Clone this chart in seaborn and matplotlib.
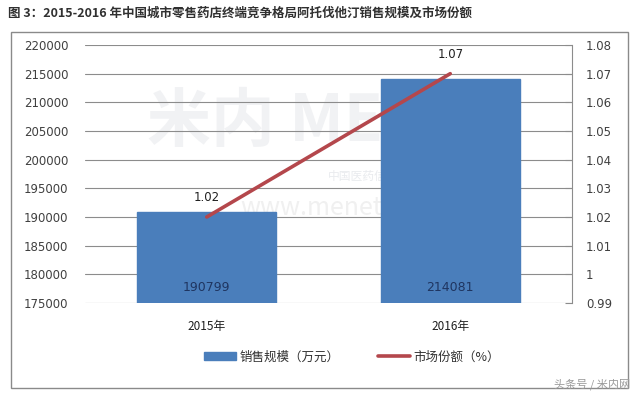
import matplotlib
matplotlib.use("Agg")
import matplotlib.pyplot as plt
import seaborn as sns
import pandas as pd
from matplotlib.patches import Rectangle, Patch
from matplotlib.lines import Line2D

years = ["2015年", "2016年"]
sales = [190799, 214081]
share = [1.02, 1.07]
title = "图 3：2015-2016 年中国城市零售药店终端竞争格局阿托伐他汀销售规模及市场份额"
legend_labels = ["销售规模（万元）", "市场份额（%）"]

sns.set_theme(style="white")
plt.rcParams['font.family'] = ['Noto Sans CJK SC', 'DejaVu Sans']

bar_color = "#4A7EBB"
line_color = "#B4474C"
grid_color = "#8C8C8C"
text_color = "#404040"

df = pd.DataFrame({"year": years, "sales": sales, "share": share})

fig = plt.figure(figsize=(6.4, 3.99), dpi=100)
ax = fig.add_axes([85/640, 1-303/399, (572-85)/640, (303-45)/399])

sns.barplot(data=df, x="year", y="sales", ax=ax, color=bar_color,
            width=0.57, saturation=1, edgecolor=bar_color, zorder=2)
ax.set_ylim(175000, 220000)
ax.set_yticks(range(175000, 220001, 5000))
ax.set_yticklabels([str(v) for v in range(175000, 220001, 5000)],
                   fontsize=8.5, color=text_color, family=['DejaVu Sans'])
ax.yaxis.grid(True, color=grid_color, linewidth=0.8, zorder=1)
ax.set_axisbelow(True)
ax.tick_params(axis='y', length=0, pad=12)
ax.tick_params(axis='x', length=0, pad=12)
ax.set_xlabel("")
ax.set_ylabel("")
for s in ["left", "top", "right", "bottom"]:
    ax.spines[s].set_visible(False)
for lbl in ax.get_xticklabels():
    lbl.set_fontsize(8.5)
    lbl.set_color("#202020")

for i, v in enumerate(sales):
    ax.text(i, 176600, str(v), ha="center", va="bottom", fontsize=9,
            color="#1F3560", family=['DejaVu Sans'], zorder=3)

# watermark (behind the bars)
ax.text(0.5, 0.70, "米内 MENET", transform=ax.transAxes, fontsize=46,
        color="#F1F2F4", ha="center", va="center", fontweight="bold",
        zorder=0.3)
ax.text(0.62, 0.49, "中国医药信息查询平台", transform=ax.transAxes,
        fontsize=8.5, color="#E9EBEE", ha="center", va="center", zorder=0.3)
ax.text(0.56, 0.37, "www.menet.com.cn", transform=ax.transAxes,
        fontsize=18, color="#F0F0F0", ha="center", va="center", zorder=0.3)

ax2 = ax.twinx()
sns.pointplot(data=df, x="year", y="share", ax=ax2, color=line_color,
              markersize=0, linewidth=2.6, errorbar=None)
ax2.set_ylim(0.99, 1.08)
yt = [0.99, 1.00, 1.01, 1.02, 1.03, 1.04, 1.05, 1.06, 1.07, 1.08]
ax2.set_yticks(yt)
ax2.set_yticklabels(["0.99", "1", "1.01", "1.02", "1.03", "1.04", "1.05",
                     "1.06", "1.07", "1.08"], fontsize=8.5, color=text_color,
                    family=['DejaVu Sans'])
ax2.tick_params(axis='y', direction='in', length=5, width=0.8,
                color=grid_color, pad=10)
ax2.set_ylabel("")
ax2.set_xlabel("")
for s in ["left", "top", "bottom"]:
    ax2.spines[s].set_visible(False)
ax2.spines["right"].set_color(grid_color)
ax2.spines["right"].set_linewidth(0.8)
for i, v in enumerate(share):
    ax2.text(i, v + 0.0045, f"{v:.2f}", ha="center", va="bottom",
             fontsize=8.5, color="#202020", family=['DejaVu Sans'])
ax.set_xlim(-0.5, 1.5)
ax2.set_xlim(-0.5, 1.5)

# title
fig.text(8/640, 1-13/399, title, fontsize=9.0, fontweight="bold",
         color="#303030", ha="left", va="center")

# frame
fig.patches.append(Rectangle((11/640, 1-388/399), (628-11)/640, (388-32)/399,
                             transform=fig.transFigure, fill=False,
                             edgecolor="#8A8A8A", linewidth=1.0, zorder=0))

handles = [Patch(facecolor=bar_color, edgecolor=bar_color),
           Line2D([0], [0], color=line_color, linewidth=2.6)]
fig.legend(handles, legend_labels, loc="center", ncol=2,
           bbox_to_anchor=(0.55, 1-357/399), frameon=False, fontsize=9,
           handlelength=2.6, handleheight=0.6, columnspacing=3.0,
           handletextpad=0.3, labelcolor="#303030")

fig.text(0.985, 1-384/399, "头条号 / 米内网", fontsize=8, color="#9A9A9A",
         ha="right", va="center")

fig.savefig("out.png", dpi=100)
